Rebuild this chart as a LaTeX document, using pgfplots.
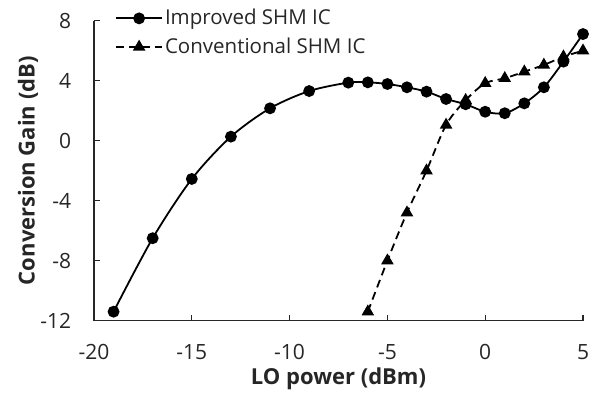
\documentclass[border=0pt]{standalone}
\usepackage{pgfplots}
\pgfplotsset{compat=1.18}
\usepackage{fontspec}
\setmainfont{Open Sans}
\usetikzlibrary{calc}

\begin{document}
\fontsize{20bp}{24bp}\selectfont
\begin{tikzpicture}
\begin{axis}[
  scale only axis,
  width=489bp, height=300bp,
  xmin=-20, xmax=5, ymin=-12, ymax=8,
  xtick={-20,-15,...,5},
  ytick={-12,-8,...,8},
  axis x line*=bottom, axis y line*=left,
  axis line style={-, line width=1.3bp, black!85},
  tick align=inside,
  major tick length=6bp,
  tick style={line width=1.3bp, black!85},
  /pgf/number format/assume math mode=true,
  tick label style={font=\fontsize{21bp}{25bp}\selectfont, text=black!85},
  yticklabel style={xshift=-16bp},
  xticklabel style={yshift=-17bp},
  xlabel={\bfseries LO power (dBm)},
  ylabel={\bfseries Conversion Gain (dB)},
  label style={font=\fontsize{22bp}{26bp}\selectfont, text=black!85},
  xlabel style={at={(axis description cs:0.5,-0.192)}, anchor=center},
  ylabel style={at={(axis description cs:-0.135,0.5)}, anchor=center},
  clip=false,
  legend style={draw=none, fill=none, at={(axis description cs:0.043,1.046)},
    anchor=north west, font=\fontsize{20.5bp}{24bp}\selectfont, text=black!85,
    row sep=6bp, inner sep=0pt},
  legend cell align=left,
  legend image code/.code={%
    \draw[mark repeat=2,mark phase=2] plot coordinates {(0bp,0bp) (23bp,0bp) (46bp,0bp)};},
]
\coordinate (sw) at (rel axis cs:0,0);

% improved subharmonic mixer IC
\addplot[black, line width=1.8bp, smooth, tension=0.5, mark=*, mark size=5bp,
  mark options={solid}] coordinates {
  (-19,-11.4) (-17,-6.5) (-15,-2.55) (-13,0.27) (-11,2.16) (-9,3.31)
  (-7,3.87) (-6,3.89) (-5,3.78) (-4,3.56) (-3,3.27) (-2,2.78) (-1,2.43)
  (0,1.93) (1,1.83) (2,2.49) (3,3.56) (4,5.27) (5,7.11)
};
\addlegendentry{Improved SHM IC}

% conventional subharmonic mixer IC
\addplot[black, line width=1.8bp, smooth, tension=0.5, dash pattern=on 8bp off 5bp,
  mark=triangle*, mark size=5.5bp, mark options={solid}] coordinates {
  (-6,-11.4) (-5,-8.0) (-4,-4.8) (-3,-2.0) (-2,1.05) (-1,2.7)
  (0,3.83) (1,4.16) (2,4.6) (3,5.05) (4,5.6) (5,6.0)
};
\addlegendentry{Conventional SHM IC}
\end{axis}
\pgfresetboundingbox
\path ($(sw)+(-94bp,-74.3bp)$) rectangle ($(sw)+(499bp,320.7bp)$);
\end{tikzpicture}
\end{document}
